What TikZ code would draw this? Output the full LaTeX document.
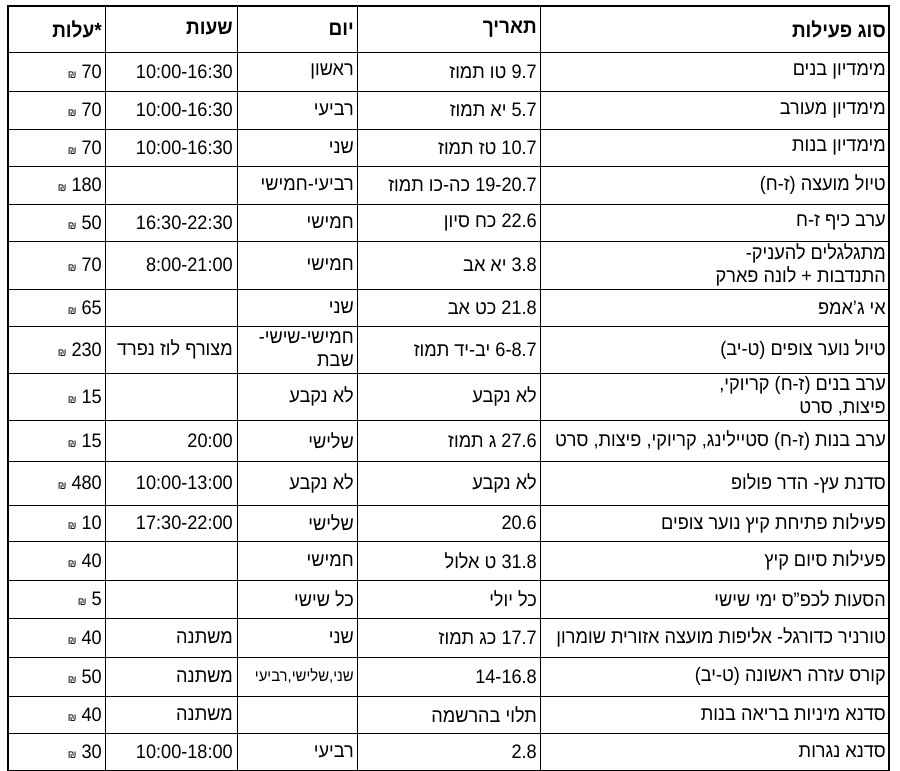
\documentclass[tikz,border=0pt]{standalone}
\usepackage{fontspec}
\setmainfont[Script=Hebrew,FakeStretch=0.93]{Liberation Sans}
\TeXXeTstate=1
\newcommand\hb[1]{\beginR #1\endR}
\newcommand\lt[1]{\beginL #1\endL{}}
\newcommand\shk[1]{\lt{{\fontsize{11}{11}\selectfont ₪} #1}}
\tikzset{cell/.style={anchor=east,inner sep=0pt,font=\fontsize{19.5}{23}\selectfont,align=right},
 hcell/.style={cell,font=\fontsize{20.5}{23}\bfseries\selectfont},
 grid/.style={line width=0.9pt}}
\newcommand\trow[8]{%
 \draw[grid] (8,#3) -- (889,#3);
 \path ({0},{(#2+#3)/2}) coordinate (m#1);
 \node[cell] (a#1) at (886,{(#2+#3)/2}) {#4};
 \node[cell] (b#1) at (537,{(#2+#3)/2}) {#5};
 \node[cell] (c#1) at (354,{(#2+#3)/2}) {#6};
 \node[cell] (d#1) at (233,{(#2+#3)/2}) {#7};
 \node[cell] (e#1) at (102,{(#2+#3)/2}) {#8};}
\begin{document}
\begin{tikzpicture}[x=1pt,y=-1pt]
\useasboundingbox[fill=white] (0,0) rectangle (900,771);
\draw[line width=2pt] (7,6) -- (890,6);
\foreach \x in {105,237,357,540} \draw[grid] (\x,6) -- (\x,770);
\draw[line width=1.6pt] (8,6) -- (8,771);
\draw[line width=1.6pt] (889,6) -- (889,771);
\node[hcell] (h1) at (886,29) {\hb{סוג פעילות}};
\node[hcell] (h2) at (537,29) {\hb{תאריך}};
\node[hcell] (h3) at (354,29) {\hb{יום}};
\node[hcell] (h4) at (233,29) {\hb{שעות}};
\node[hcell] (h5) at (102,29) {\hb{*עלות}};
\trow{0}{6}{52}{}{}{}{}{}
\trow{1}{52}{91}{\hb{מימדיון בנים}}{\hb{\lt{9.7} טו תמוז}}{\hb{ראשון}}{10:00-16:30}{\shk{70}}
\trow{2}{91}{129}{\hb{מימדיון מעורב}}{\hb{\lt{5.7} יא תמוז}}{\hb{רביעי}}{10:00-16:30}{\shk{70}}
\trow{3}{129}{166}{\hb{מימדיון בנות}}{\hb{\lt{10.7} טז תמוז}}{\hb{שני}}{10:00-16:30}{\shk{70}}
\trow{4}{166}{204}{\hb{טיול מועצה (ז-ח)}}{\hb{\lt{19-20.7} כה-כו תמוז}}{\hb{רביעי-חמישי}}{}{\shk{180}}
\trow{5}{204}{241}{\hb{ערב כיף ז-ח}}{\hb{\lt{22.6} כח סיון}}{\hb{חמישי}}{16:30-22:30}{\shk{50}}
\trow{6}{241}{289}{\hb{מתגלגלים להעניק-}\\\hb{התנדבות + לונה פארק}}{\hb{\lt{3.8} יא אב}}{\hb{חמישי}}{8:00-21:00}{\shk{70}}
\trow{7}{289}{326}{\hb{אי ג'אמפ}}{\hb{\lt{21.8} כט אב}}{\hb{שני}}{}{\shk{65}}
\trow{8}{326}{373}{\hb{טיול נוער צופים (ט-יב)}}{\hb{\lt{6-8.7} יב-יד תמוז}}{\hb{חמישי-שישי-}\\\hb{שבת}}{\hb{מצורף לוז נפרד}}{\shk{230}}
\trow{9}{373}{420}{\hb{ערב בנים (ז-ח) קריוקי,}\\\hb{פיצות, סרט}}{\hb{לא נקבע}}{\hb{לא נקבע}}{}{\shk{15}}
\trow{10}{420}{461}{\hb{ערב בנות (ז-ח) סטיילינג, קריוקי, פיצות, סרט}}{\hb{\lt{27.6} ג תמוז}}{\hb{שלישי}}{20:00}{\shk{15}}
\trow{11}{461}{505}{\hb{סדנת עץ- הדר פולופ}}{\hb{לא נקבע}}{\hb{לא נקבע}}{10:00-13:00}{\shk{480}}
\trow{12}{505}{541}{\hb{פעילות פתיחת קיץ נוער צופים}}{20.6}{\hb{שלישי}}{17:30-22:00}{\shk{10}}
\trow{13}{541}{580}{\hb{פעילות סיום קיץ}}{\hb{\lt{31.8} ט אלול}}{\hb{חמישי}}{}{\shk{40}}
\trow{14}{580}{618}{\hb{הסעות לכפ"ס ימי שישי}}{\hb{כל יולי}}{\hb{כל שישי}}{}{\shk{5}}
\trow{15}{618}{657}{\hb{טורניר כדורגל- אליפות מועצה אזורית שומרון}}{\hb{\lt{17.7} כג תמוז}}{\hb{שני}}{\hb{משתנה}}{\shk{40}}
\trow{16}{657}{696}{\hb{קורס עזרה ראשונה (ט-יב)}}{\raisebox{-5pt}{14-16.8}}{\raisebox{3pt}{\fontsize{16}{18}\selectfont\hb{שני,שלישי,רביעי}}}{\hb{משתנה}}{\shk{50}}
\trow{17}{696}{733}{\hb{סדנא מיניות בריאה בנות}}{\hb{תלוי בהרשמה}}{}{\hb{משתנה}}{\shk{40}}
\trow{18}{733}{770}{\hb{סדנא נגרות}}{\raisebox{-5pt}{2.8}}{\raisebox{-5pt}{\hb{רביעי}}}{\raisebox{-5pt}{10:00-18:00}}{\shk{30}}
\end{tikzpicture}
\end{document}
